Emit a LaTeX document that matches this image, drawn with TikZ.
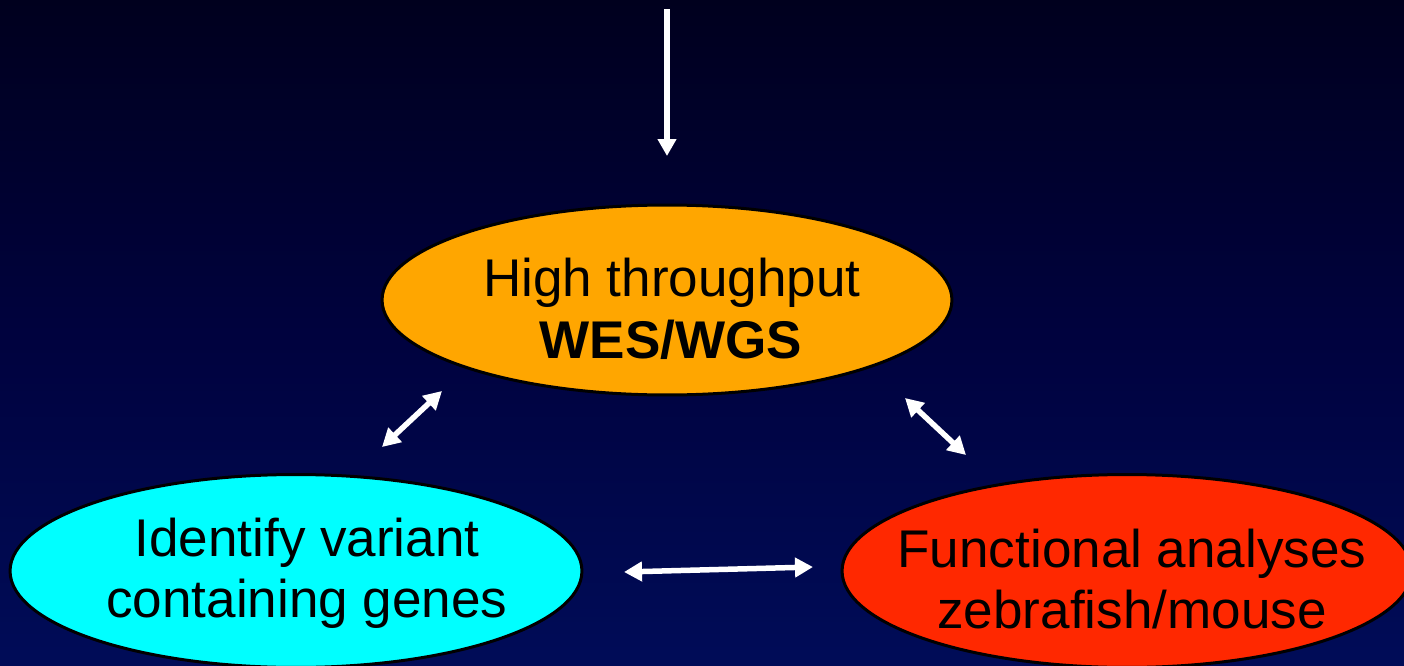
\documentclass[tikz,border=0pt]{standalone}
\usepackage{fontspec}
\setmainfont{Liberation Sans}
\usetikzlibrary{arrows.meta,shapes.geometric}
\definecolor{bgtop}{RGB}{0,0,30}
\definecolor{bgmid}{RGB}{0,2,62}
\definecolor{bgbot}{RGB}{0,12,88}
\definecolor{orangefill}{RGB}{255,166,0}
\definecolor{cyanfill}{RGB}{0,255,255}
\definecolor{redfill}{RGB}{255,40,0}
\tikzset{
  bubble/.style={ellipse, draw=black, line width=0.06cm, inner sep=0pt, minimum width=#1},
  lbl/.style={anchor=base, inner sep=0pt, text=black, font=\fontsize{30.2}{36}\selectfont},
  whitearrow/.style={draw=white, line width=0.11cm, -{Triangle[width=0.36cm,length=0.34cm]}},
  twoway/.style={draw=white, line width=0.11cm, {Triangle[width=0.38cm,length=0.36cm]}-{Triangle[width=0.38cm,length=0.36cm]}}
}
\begin{document}
\begin{tikzpicture}[x=0.02cm,y=-0.02cm]
\shade[top color=bgtop, bottom color=bgbot, middle color=bgmid] (0,0) rectangle (1404,666);
\useasboundingbox (0,0) rectangle (1404,666);
% ellipses
\node[bubble=11.4cm, minimum height=3.8cm, fill=orangefill] (hts) at (667,300) {};
\node[bubble=11.44cm, minimum height=3.86cm, fill=cyanfill] (idv) at (296,571) {};
\node[bubble=11.4cm, minimum height=3.86cm, fill=redfill] (fun) at (1127,571) {};
% texts
\node[lbl] (hts1) at (672,296) {High throughput};
\node[lbl, font=\fontsize{30.2}{36}\selectfont\bfseries] (hts2) at (671,358) {WES/WGS};
\node[lbl] (idv1) at (307,556) {Identify variant};
\node[lbl] (idv2) at (307,617) {containing genes};
\node[lbl] (fun1) at (1132,567) {Functional analyses};
\node[lbl] (fun2) at (1132,628) {zebrafish/mouse};
% connector end points
\coordinate (topin) at (667,9);
\coordinate (topout) at (667,156);
\coordinate (la) at (442,391);
\coordinate (lb) at (382,447);
\coordinate (ra) at (905,398);
\coordinate (rb) at (966,455);
\coordinate (ha) at (624,572);
\coordinate (hb) at (813,567);
% arrows
\draw[whitearrow] (topin) -- (topout);
\draw[twoway] (lb) -- (la);
\draw[twoway] (ra) -- (rb);
\draw[twoway] (ha) -- (hb);
\end{tikzpicture}
\end{document}
